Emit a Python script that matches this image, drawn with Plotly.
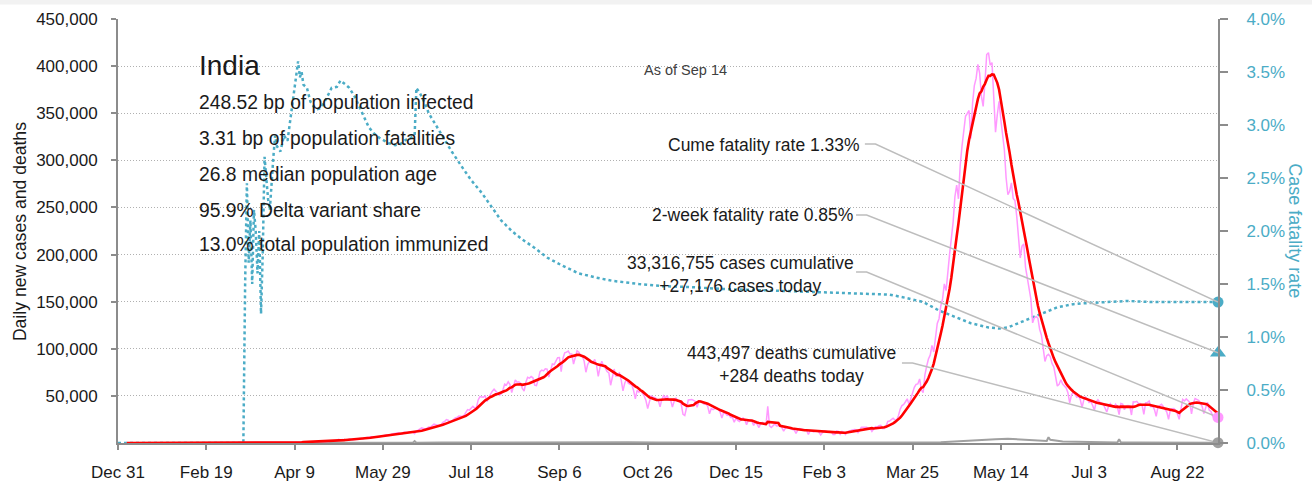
import pandas as pd
import plotly.graph_objects as go

# ---------------------------------------------------------------------------
# Data
# ---------------------------------------------------------------------------
# Daily new cases (thousands), one value per day from Sunday 2020-01-05.
# Each row is one week, Sunday..Saturday.
first_day = "2020-01-05"
daily_cases_k = [
    # Jan 5 - Feb 29, 2020
    0, 0, 0, 0, 0, 0, 0,
    0, 0, 0, 0, 0, 0, 0,
    0, 0, 0, 0, 0, 0, 0,
    0, 0, 0, 0, 0, 0, 0,
    0, 0, 0, 0, 0, 0, 0,
    0, 0, 0, 0, 0, 0, 0,
    0, 0, 0, 0, 0, 0, 0,
    0, 0, 0, 0, 0, 0, 0,
    # Mar 2020
    0.0, 0.0, 0.0, 0.0, 0.0, 0.0, 0.0,
    0.0, 0.0, 0.0, 0.0, 0.0, 0.0, 0.0,
    0.0, 0.0, 0.0, 0.0, 0.0, 0.1, 0.1,
    0.1, 0.1, 0.1, 0.1, 0.1, 0.2, 0.1,
    0.1, 0.2, 0.1, 0.6, 0.5, 0.5, 0.6,
    # Apr 2020
    0.5, 0.7, 0.5, 0.6, 0.8, 0.9, 0.9,
    0.8, 0.8, 1.5, 1.1, 0.9, 1.0, 1.3,
    1.5, 1.5, 1.4, 1.6, 1.4, 1.7, 1.8,
    1.6, 1.6, 1.6, 1.8, 1.9, 2.3, 2.4,
    # May 2020
    2.6, 3.9, 2.9, 3.6, 3.4, 3.3, 3.3,
    4.2, 3.6, 3.5, 3.7, 3.8, 4.0, 4.8,
    5.0, 4.6, 5.6, 5.6, 6.2, 6.6, 6.8,
    6.8, 6.5, 6.0, 6.5, 7.3, 7.9, 8.4,
    8.8, 8.0, 8.2, 9.5, 9.8, 9.9, 10.4,
    # Jun 2020
    10.9, 9.9, 9.6, 11.5, 11.4, 11.0, 12.0,
    11.9, 11.5, 10.0, 12.9, 13.6, 14.5, 16.0,
    15.5, 14.8, 15.7, 16.9, 17.0, 18.6, 20.0,
    19.5, 18.6, 18.3, 19.4, 21.9, 22.8, 24.9,
    # Jul 2020
    24.2, 22.3, 23.1, 24.9, 26.5, 27.1, 28.6,
    28.5, 28.2, 29.4, 32.7, 35.5, 34.9, 37.4,
    38.9, 37.1, 37.7, 45.7, 49.3, 48.9, 48.7,
    49.9, 44.0, 48.5, 52.5, 55.0, 57.1, 54.7,
    # Aug 2020
    52.9, 50.6, 52.1, 56.3, 62.5, 61.5, 65.0,
    62.1, 53.6, 60.9, 66.9, 64.5, 65.0, 63.5,
    57.9, 55.0, 64.5, 69.7, 68.9, 70.5, 69.2,
    61.4, 60.9, 67.2, 75.8, 77.3, 76.5, 78.8,
    78.5, 69.9, 78.4, 83.9, 83.3, 87.1, 90.6,
    # Sep 2020
    90.8, 75.8, 89.7, 95.7, 96.5, 97.6, 94.4,
    94.4, 83.8, 90.1, 97.9, 96.4, 93.3, 92.6,
    86.9, 75.1, 83.3, 86.5, 85.4, 86.1, 88.6,
    82.8, 70.6, 80.5, 86.8, 81.5, 79.5, 75.8,
    # Oct 2020
    74.4, 61.3, 72.1, 78.5, 70.5, 73.3, 74.4,
    66.7, 55.3, 63.5, 67.7, 63.4, 62.2, 61.9,
    55.7, 46.8, 55.8, 54.0, 55.8, 53.4, 50.1,
    45.1, 36.5, 43.9, 49.9, 48.6, 48.3, 46.9,
    # Nov 2020
    45.2, 38.3, 46.3, 50.2, 47.6, 50.4, 45.7,
    45.7, 38.1, 44.3, 47.9, 44.9, 44.7, 41.1,
    30.5, 29.2, 38.6, 45.6, 45.9, 46.2, 45.2,
    44.1, 37.9, 44.4, 44.5, 43.1, 41.3, 41.8,
    38.8, 31.1, 36.6, 35.5, 36.6, 36.6, 36.0,
    # Dec 2020
    32.9, 26.6, 32.1, 31.5, 29.4, 30.0, 27.1,
    27.1, 22.1, 26.4, 24.0, 22.9, 25.1, 26.6,
    24.3, 19.5, 23.9, 24.7, 23.1, 18.7, 22.3,
    20.0, 16.4, 20.5, 21.8, 20.0, 19.1, 39.0,
    # Jan 2021
    18.2, 16.5, 18.1, 20.3, 18.1, 18.2, 18.6,
    16.3, 12.6, 15.9, 16.9, 15.6, 15.1, 15.1,
    13.8, 10.1, 13.8, 15.2, 14.5, 14.3, 13.2,
    13.2, 9.1, 12.7, 12.7, 11.7, 13.1, 13.0,
    11.4, 8.6, 11.0, 12.9, 12.4, 11.7, 12.1,
    # Feb 2021
    11.8, 9.1, 9.1, 12.9, 12.3, 9.3, 12.2,
    11.6, 9.1, 11.6, 12.9, 13.2, 13.9, 14.3,
    14.2, 10.6, 13.7, 16.7, 16.6, 16.6, 16.8,
    15.5, 15.5, 12.3, 14.9, 17.4, 16.8, 18.3,
    # Mar 2021
    18.7, 15.4, 15.4, 17.9, 22.9, 23.3, 24.9,
    26.3, 24.4, 24.5, 28.9, 35.9, 39.7, 40.9,
    43.8, 46.9, 40.7, 47.3, 53.5, 59.1, 62.3,
    62.7, 68.0, 56.2, 53.5, 72.3, 81.5, 89.1,
    # Apr 2021
    93.2, 103.6, 96.6, 115.7, 126.8, 131.9, 145.4,
    152.9, 168.9, 161.7, 184.4, 200.7, 217.4, 234.7,
    261.5, 273.8, 259.2, 295.0, 314.8, 332.5, 346.8,
    349.7, 352.9, 323.1, 360.9, 379.3, 386.9, 401.9,
    # May 2021
    392.5, 368.1, 357.2, 382.3, 412.3, 414.2, 401.1,
    403.7, 366.2, 329.9, 348.4, 362.7, 343.1, 326.1,
    311.2, 281.4, 263.5, 267.3, 276.1, 259.6, 257.3,
    240.8, 222.3, 196.4, 208.9, 211.3, 186.4, 173.8,
    165.6, 153.0, 127.5, 132.8, 134.2, 132.4, 120.5,
    # Jun 2021
    114.5, 100.6, 86.5, 92.6, 94.1, 91.7, 84.3,
    80.8, 70.4, 60.5, 62.2, 67.2, 62.5, 60.8,
    58.4, 53.3, 42.6, 50.8, 54.1, 51.7, 48.7,
    50.0, 46.1, 37.6, 45.9, 48.8, 46.6, 43.1,
    # Jul 2021
    44.1, 39.8, 34.7, 43.7, 45.9, 43.4, 42.8,
    41.5, 37.1, 32.9, 38.8, 41.8, 38.9, 38.1,
    41.2, 38.2, 30.1, 42.0, 41.4, 35.3, 39.1,
    39.7, 39.4, 29.7, 43.7, 43.5, 44.2, 41.6,
    # Aug 2021
    41.8, 40.1, 30.5, 42.6, 42.9, 44.6, 38.6,
    39.1, 35.5, 28.2, 38.4, 40.1, 41.2, 38.7,
    36.1, 32.9, 25.2, 35.2, 36.4, 36.6, 34.5,
    30.9, 25.1, 37.6, 46.2, 44.7, 46.8, 45.1,
    42.9, 30.9, 41.9, 47.1, 46.0, 45.4, 42.6,
    # Sep 2021
    38.9, 31.2, 37.9, 43.3, 34.9, 33.4, 28.6,
    27.3, 25.4, 27.176,
]

# Daily deaths
death_dates = [
    "2020-01-05", "2020-03-11", "2020-04-01", "2020-04-15", "2020-05-01",
    "2020-05-15", "2020-06-01", "2020-06-15", "2020-06-16", "2020-06-17",
    "2020-07-01", "2020-07-15", "2020-08-01", "2020-08-15", "2020-09-01",
    "2020-09-15", "2020-10-01", "2020-10-15", "2020-11-01", "2020-11-15",
    "2020-12-01", "2020-12-15", "2021-01-01", "2021-01-15", "2021-02-01",
    "2021-02-15", "2021-03-01", "2021-03-15", "2021-04-01", "2021-04-10",
    "2021-04-20", "2021-04-27", "2021-05-04", "2021-05-11", "2021-05-18",
    "2021-05-25", "2021-06-01", "2021-06-09", "2021-06-10", "2021-06-11",
    "2021-06-18", "2021-06-25", "2021-07-05", "2021-07-19", "2021-07-20",
    "2021-07-21", "2021-08-01", "2021-08-15", "2021-09-01", "2021-09-14",
]
daily_deaths = [
    0, 0, 10, 40, 70, 110, 230, 340, 2003, 340,
    450, 580, 800, 950, 1050, 1150, 1100, 800, 530, 480,
    480, 350, 250, 180, 110, 100, 110, 160, 450, 800,
    1900, 3000, 3500, 4000, 4500, 4000, 3000, 2200, 6148, 3400,
    1600, 1200, 800, 500, 3998, 500, 500, 450, 460, 284,
]

# Cumulative case fatality rate (%)
cfr_dates = [
    "2019-12-31", "2020-03-11", "2020-03-12", "2020-03-13", "2020-03-14",
    "2020-03-15", "2020-03-16", "2020-03-17", "2020-03-18", "2020-03-19",
    "2020-03-20", "2020-03-21", "2020-03-22", "2020-03-23", "2020-03-24",
    "2020-03-25", "2020-03-26", "2020-03-27", "2020-03-28", "2020-03-29",
    "2020-03-30", "2020-04-01", "2020-04-03", "2020-04-05", "2020-04-07",
    "2020-04-09", "2020-04-11", "2020-04-12", "2020-04-13", "2020-04-14",
    "2020-04-16", "2020-04-18", "2020-04-20", "2020-04-22", "2020-04-24",
    "2020-04-27", "2020-04-30", "2020-05-03", "2020-05-05", "2020-05-08",
    "2020-05-10", "2020-05-13", "2020-05-15", "2020-05-18", "2020-05-21",
    "2020-05-24", "2020-05-27", "2020-06-01", "2020-06-05", "2020-06-08",
    "2020-06-11", "2020-06-14", "2020-06-16", "2020-06-17", "2020-06-19",
    "2020-06-22", "2020-06-24", "2020-06-28", "2020-07-02", "2020-07-07",
    "2020-07-13", "2020-07-18", "2020-07-24", "2020-07-30", "2020-08-04",
    "2020-08-10", "2020-08-16", "2020-08-23", "2020-08-30", "2020-09-08",
    "2020-09-17", "2020-09-27", "2020-10-06", "2020-10-21", "2020-11-03",
    "2020-11-20", "2020-12-11", "2021-01-01", "2021-01-18", "2021-02-02",
    "2021-03-02", "2021-03-12", "2021-03-21", "2021-03-31", "2021-04-09",
    "2021-04-18", "2021-04-27", "2021-05-07", "2021-05-13", "2021-05-18",
    "2021-05-24", "2021-06-04", "2021-06-10", "2021-06-15", "2021-06-24",
    "2021-07-02", "2021-07-25", "2021-08-07", "2021-08-25", "2021-09-14",
]
cfr_pct = [
    0, 0, 1.5, 2.45, 1.7, 2.1, 1.5, 2.2, 2.0, 1.6,
    2.0, 1.22, 1.8, 2.7, 2.5, 2.3, 2.2, 2.5, 2.7, 2.9,
    2.8, 2.75, 2.9, 2.85, 3.1, 3.35, 3.6, 3.45, 3.5, 3.38,
    3.35, 3.22, 3.17, 3.15, 3.16, 3.25, 3.35, 3.36, 3.42, 3.38,
    3.35, 3.27, 3.2, 3.08, 2.98, 2.92, 2.88, 2.83, 2.81, 2.82,
    2.86, 2.88, 2.9, 3.35, 3.3, 3.2, 3.11, 3.0, 2.89, 2.75,
    2.6, 2.48, 2.36, 2.22, 2.1, 2.0, 1.92, 1.84, 1.75, 1.67,
    1.6, 1.56, 1.53, 1.5, 1.48, 1.47, 1.45, 1.44, 1.43, 1.42,
    1.41, 1.40, 1.37, 1.33, 1.25, 1.19, 1.13, 1.09, 1.08, 1.09,
    1.13, 1.21, 1.25, 1.28, 1.31, 1.32, 1.34, 1.33, 1.33, 1.33,
]

# Headline statistics
as_of = "2021-09-14"
cases_cumulative = 33316755
cases_today = 27176
deaths_cumulative = 443497
deaths_today = 284
cume_fatality_pct = 1.33
two_week_fatality_pct = 0.85

country = "India"
profile_lines = [
    "248.52 bp of population infected",
    "3.31 bp of population fatalities",
    "26.8 median population age",
    "95.9% Delta variant share",
    "13.0% total population immunized",
]

# Axis ticks
x_tick_dates = [
    "2019-12-31", "2020-02-19", "2020-04-09", "2020-05-29", "2020-07-18",
    "2020-09-06", "2020-10-26", "2020-12-15", "2021-02-03", "2021-03-25",
    "2021-05-14", "2021-07-03", "2021-08-22",
]
x_tick_labels = [
    "Dec 31", "Feb 19", "Apr 9", "May 29", "Jul 18", "Sep 6", "Oct 26",
    "Dec 15", "Feb 3", "Mar 25", "May 14", "Jul 3", "Aug 22",
]
case_ticks = [50000, 100000, 150000, 200000, 250000, 300000, 350000, 400000, 450000]
cfr_ticks = [0, 0.5, 1.0, 1.5, 2.0, 2.5, 3.0, 3.5, 4.0]
cfr_tick_labels = ["0.0%", "0.5%", "1.0%", "1.5%", "2.0%", "2.5%", "3.0%", "3.5%", "4.0%"]

CASE_MAX = 450000
CFR_MAX = 4.0

# ---------------------------------------------------------------------------
# Styling
# ---------------------------------------------------------------------------
FONT = "Liberation Sans, Arial, sans-serif"
TEXT = "#1A1A1A"
TEAL = "#4BACC6"
PINK = "#FF99FF"
RED = "#FF0000"
DEATH_GRAY = "#A0A0A0"
AXIS = "#8C8C8C"
GRID = "#B0B0B0"
LEADER = "#BDBDBD"
TICK_SIZE = 17

# ---------------------------------------------------------------------------
# Derived series
# ---------------------------------------------------------------------------
days = pd.date_range(first_day, periods=len(daily_cases_k), freq="D")
cases = pd.Series(daily_cases_k, index=days) * 1000
cases_7d = cases.rolling(7, min_periods=1).mean()
last_day = days[-1]


def cfr_on_case_axis(pct):
    """Height of a CFR value expressed in case-axis units (both axes span the plot)."""
    return pct / CFR_MAX * CASE_MAX


fig = go.Figure()

# Case fatality rate (right axis, base layer)
fig.add_trace(go.Scatter(
    x=cfr_dates, y=cfr_pct, yaxis="y", mode="lines",
    line=dict(color=TEAL, width=2.5, dash="3px,3px"),
    hoverinfo="skip",
))
fig.add_trace(go.Scatter(
    x=[last_day], y=[cume_fatality_pct], yaxis="y", mode="markers",
    marker=dict(color=TEAL, size=11, symbol="circle"), cliponaxis=False,
    hoverinfo="skip",
))
fig.add_trace(go.Scatter(
    x=[last_day], y=[two_week_fatality_pct], yaxis="y", mode="markers",
    marker=dict(color=TEAL, size=14, symbol="triangle-up"), cliponaxis=False,
    hoverinfo="skip",
))

# Deaths, daily cases and 7-day average (left axis, overlay)
fig.add_trace(go.Scatter(
    x=death_dates, y=daily_deaths, yaxis="y2", mode="lines",
    line=dict(color=DEATH_GRAY, width=2), hoverinfo="skip",
))
fig.add_trace(go.Scatter(
    x=days, y=cases.values, yaxis="y2", mode="lines",
    line=dict(color=PINK, width=1.5), hoverinfo="skip",
))
fig.add_trace(go.Scatter(
    x=days, y=cases_7d.values, yaxis="y2", mode="lines",
    line=dict(color=RED, width=2.6), hoverinfo="skip",
))

# Leader lines from the call-out labels to the end-of-series markers
leaders = [
    (("2021-02-26", 317300), ("2021-03-04", 317300), cfr_on_case_axis(cume_fatality_pct)),
    (("2021-02-21", 242000), ("2021-02-27", 242000), cfr_on_case_axis(two_week_fatality_pct)),
    (("2021-02-21", 181500), ("2021-02-27", 181500), cases_today),
    (("2021-03-19", 84900), ("2021-03-25", 84900), deaths_today),
]
for start, knee, end_y in leaders:
    fig.add_trace(go.Scatter(
        x=[start[0], knee[0], last_day], y=[start[1], knee[1], end_y],
        yaxis="y2", mode="lines", line=dict(color=LEADER, width=1.5),
        cliponaxis=False, hoverinfo="skip",
    ))

fig.add_trace(go.Scatter(
    x=[last_day], y=[cases_today], yaxis="y2", mode="markers",
    marker=dict(color=PINK, size=11), cliponaxis=False, hoverinfo="skip",
))
fig.add_trace(go.Scatter(
    x=[last_day], y=[deaths_today], yaxis="y2", mode="markers",
    marker=dict(color=DEATH_GRAY, size=11), cliponaxis=False, hoverinfo="skip",
))

# ---------------------------------------------------------------------------
# Text
# ---------------------------------------------------------------------------
annotations = []


def note(text, x, y, size=17.5, xanchor="left", color=TEXT, align="left", textangle=0):
    annotations.append(dict(
        text=text, x=x, y=y, xref="paper", yref="paper", showarrow=False,
        xanchor=xanchor, yanchor="middle", align=align, textangle=textangle,
        font=dict(family=FONT, size=size, color=color),
    ))


note(country, 0.0718, 0.8915, size=28)
for line, ypos in zip(profile_lines, [0.8019, 0.717, 0.6344, 0.5495, 0.4693]):
    note(line, 0.0718, ypos, size=19.3)

note("As of " + pd.Timestamp(as_of).strftime("%b %-d"), 0.4764, 0.8797, size=14.5, color="#404040")

note(f"Cume fatality rate {cume_fatality_pct:.2f}%", 0.6764, 0.7028, xanchor="right")
note(f"2-week fatality rate {two_week_fatality_pct:.2f}%", 0.670, 0.5377, xanchor="right")
note(f"{cases_cumulative:,} cases cumulative<br>+{cases_today:,} cases today",
     0.5655, 0.3974, xanchor="center", align="center")
note(f"{deaths_cumulative:,} deaths cumulative<br>+{deaths_today:,} deaths today",
     0.6127, 0.184, xanchor="center", align="center")

note("Daily new cases and deaths", -0.089, 0.4976, size=17.6, xanchor="center", textangle=-90)
note("Case fatality rate", 1.070, 0.502, size=18, xanchor="center", color=TEAL, textangle=90)

fig.update_layout(
    width=1312, height=484,
    margin=dict(l=118, r=94, t=19, b=41, autoexpand=False),
    paper_bgcolor="white", plot_bgcolor="white",
    showlegend=False,
    font=dict(family=FONT, size=TICK_SIZE, color=TEXT),
    annotations=annotations,
    shapes=[dict(
        type="rect", xref="paper", yref="paper",
        x0=-0.11, x1=1.09, y0=1.0342, y1=1.05,
        fillcolor="#F2F2F2", line=dict(width=0), layer="below",
    )],
    xaxis=dict(
        type="date", range=["2019-12-31", as_of],
        tickvals=x_tick_dates, ticktext=x_tick_labels,
        showline=True, linecolor=AXIS, linewidth=2,
        ticks="outside", ticklen=5, tickwidth=2, tickcolor=AXIS,
        showgrid=False, zeroline=False, automargin=False,
        tickfont=dict(family=FONT, size=TICK_SIZE, color=TEXT),
        ticklabelstandoff=8,
    ),
    yaxis=dict(
        side="right", range=[0, CFR_MAX],
        tickvals=cfr_ticks, ticktext=cfr_tick_labels,
        showline=True, linecolor=AXIS, linewidth=2,
        ticks="outside", ticklen=8, tickwidth=2, tickcolor=AXIS,
        showgrid=False, zeroline=False, automargin=False,
        tickfont=dict(family=FONT, size=TICK_SIZE, color=TEAL),
        ticklabelstandoff=15,
    ),
    yaxis2=dict(
        side="left", overlaying="y", range=[0, CASE_MAX],
        tickvals=case_ticks, tickformat=",",
        showline=True, linecolor=AXIS, linewidth=2,
        ticks="outside", ticklen=5, tickwidth=2, tickcolor=AXIS,
        showgrid=True, gridcolor=GRID, gridwidth=1, griddash="1px,2px",
        zeroline=False, automargin=False,
        tickfont=dict(family=FONT, size=TICK_SIZE, color=TEXT),
        ticklabelstandoff=10,
    ),
)

fig.write_html("out.html")
